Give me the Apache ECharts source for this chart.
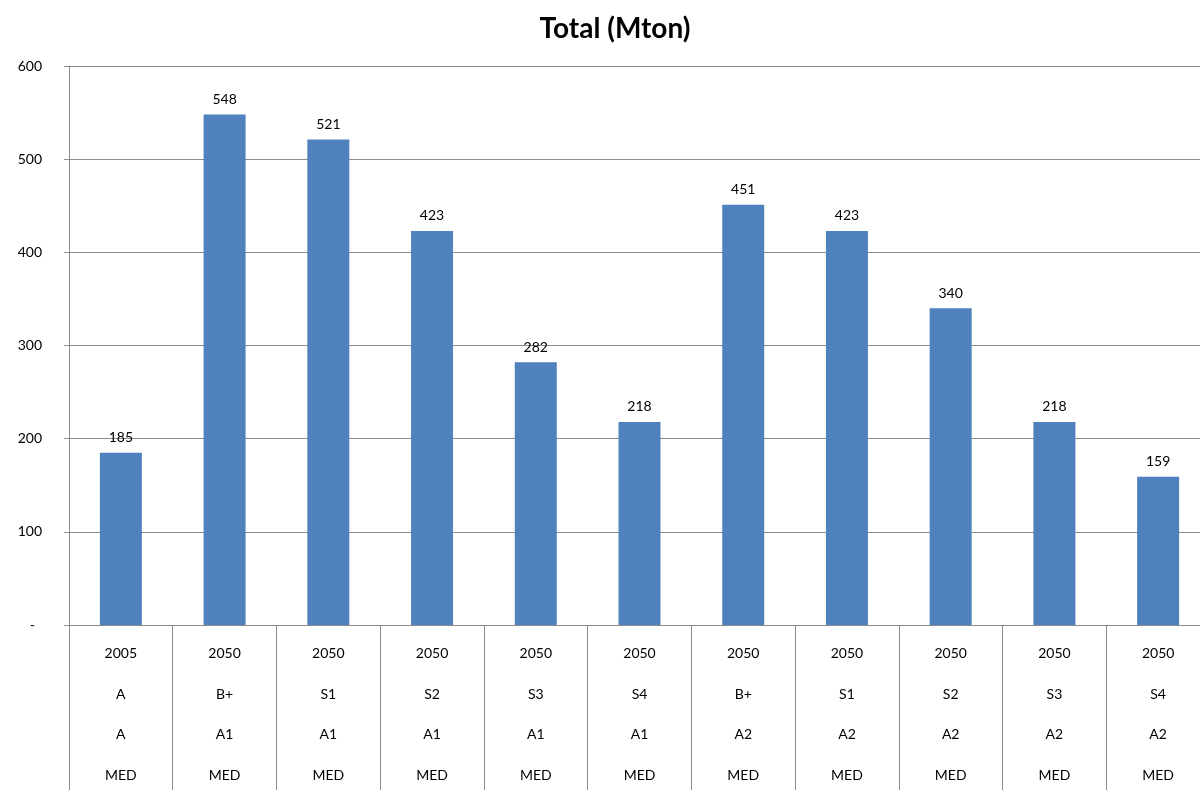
<!DOCTYPE html>
<html>
<head>
<meta charset="utf-8">
<script src="https://cdn.jsdelivr.net/npm/echarts@6/dist/echarts.min.js"></script>
<style>
  html, body { margin: 0; padding: 0; background: #fff; }
  #chart { width: 1200px; height: 790px; }
</style>
</head>
<body>
<div id="chart"></div>
<script>
// Category levels (top to bottom under the axis)
const years     = ['2005', '2050', '2050', '2050', '2050', '2050', '2050', '2050', '2050', '2050', '2050'];
const scenarios = ['A', 'B+', 'S1', 'S2', 'S3', 'S4', 'B+', 'S1', 'S2', 'S3', 'S4'];
const storylines = ['A', 'A1', 'A1', 'A1', 'A1', 'A1', 'A2', 'A2', 'A2', 'A2', 'A2'];
const variants  = ['MED', 'MED', 'MED', 'MED', 'MED', 'MED', 'MED', 'MED', 'MED', 'MED', 'MED'];

// Total emissions, Mton
const totals = [185, 548, 521, 423, 282, 218, 451, 423, 340, 218, 159];

const yTicks = [0, 100, 200, 300, 400, 500, 600];

const categories = years.map((y, i) =>
  [y, scenarios[i], storylines[i], variants[i]].join('\n'));

const FONT = 'Lato, "Open Sans", sans-serif';
const GRID = '#8c8c8c';

const chart = echarts.init(document.getElementById('chart'), null, { renderer: 'canvas' });
chart.setOption({
  animation: false,
  backgroundColor: '#ffffff',
  title: {
    text: 'Total (Mton)',
    left: 610,
    textAlign: 'center',
    top: 10,
    textStyle: { fontFamily: FONT, fontSize: 28, fontWeight: 'bold', color: '#000' }
  },
  grid: { left: 69, right: -10, top: 66, bottom: 165, containLabel: false, outerBoundsMode: 'none' },
  xAxis: {
    type: 'category',
    data: categories,
    axisLine: { show: true, lineStyle: { color: GRID, width: 1 } },
    axisTick: { show: true, alignWithLabel: false, interval: 0, length: 166,
                lineStyle: { color: GRID, width: 1 } },
    axisLabel: {
      interval: 0,
      margin: 8,
      fontFamily: FONT,
      fontSize: 14,
      color: '#000',
      lineHeight: 40.7
    }
  },
  yAxis: {
    type: 'value',
    min: yTicks[0],
    max: yTicks[yTicks.length - 1],
    interval: 100,
    axisLine: { show: true, lineStyle: { color: GRID, width: 1 } },
    axisTick: { show: true, length: 5, lineStyle: { color: GRID, width: 1 } },
    splitLine: { show: true, lineStyle: { color: GRID, width: 1 } },
    axisLabel: {
      margin: 27,
      fontFamily: FONT,
      fontSize: 14,
      color: '#000',
      formatter: v => (v === 0 ? '-  ' : String(v))
    }
  },
  series: [{
    type: 'bar',
    data: totals,
    barWidth: 42,
    itemStyle: { color: '#4F81BD' },
    label: {
      show: true,
      position: 'top',
      distance: 8,
      fontFamily: FONT,
      fontSize: 14,
      color: '#000'
    }
  }]
});
</script>
</body>
</html>
